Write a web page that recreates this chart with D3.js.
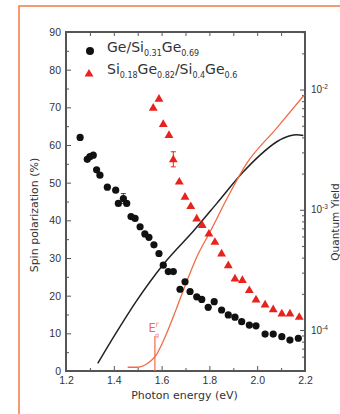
<!DOCTYPE html>
<html>
<head>
<meta charset="utf-8">
<script src="https://cdn.jsdelivr.net/npm/d3@7"></script>
<style>
  body { margin: 0; background: #fff; }
  svg { display: block; font-family: 'DejaVu Sans', sans-serif; }
</style>
</head>
<body>
<script>
// spin polarization, Ge/Si0.31Ge0.69 (black circles)
const blackE = [1.259,1.289,1.300,1.314,1.328,1.342,1.373,1.408,1.419,1.440,1.454,1.472,1.489,1.510,1.530,1.547,1.568,1.589,1.607,1.628,1.649,1.677,1.698,1.719,1.747,1.768,1.795,1.820,1.851,1.879,1.907,1.935,1.967,1.995,2.033,2.067,2.103,2.137,2.172];
const blackP = [62.0,56.2,56.9,57.3,53.4,52.0,48.8,48.0,44.5,45.8,44.5,41.0,40.5,38.3,36.4,35.5,33.5,31.2,28.1,26.4,26.4,21.7,23.7,21.1,19.7,19.0,16.9,18.4,16.2,14.9,14.3,13.1,12.2,12.0,9.8,9.8,9.1,8.2,8.7];
// spin polarization, Si0.18Ge0.82/Si0.4Ge0.6 (red triangles)
const redE = [1.565,1.589,1.607,1.631,1.649,1.674,1.698,1.722,1.747,1.770,1.798,1.823,1.851,1.879,1.907,1.938,1.967,1.995,2.033,2.067,2.103,2.137,2.176];
const redP = [69.9,72.3,65.6,62.7,56.2,50.3,46.3,43.8,40.5,38.8,36.5,34.3,31.2,28.1,24.6,24.2,21.5,19.0,17.7,16.4,15.3,15.3,14.4];
// error bars [energy, value, half-height]
const blackErr = [[1.440, 45.8, 1.3]];
const redErr = [[1.649, 56.2, 2.0]];
// quantum yield curves (right log axis)
const qyBlackE = [1.333,1.409,1.493,1.611,1.737,1.831,1.942,2.012,2.082,2.137,2.165,2.193];
const qyBlack = [5.28e-5,9.4e-5,1.72e-4,3.59e-4,6.79e-4,1.13e-3,2.07e-3,2.85e-3,3.68e-3,4.12e-3,4.2e-3,4.15e-3];
const qyOrangeE = [1.458,1.500,1.542,1.577,1.618,1.660,1.702,1.751,1.803,1.879,1.956,2.077,2.197];
const qyOrange = [4.9e-5,4.9e-5,5.28e-5,6.19e-5,9.08e-5,1.47e-4,2.44e-4,4.2e-4,6.56e-4,1.3e-3,2.43e-3,4.67e-3,9.0e-3];
const egamma = 1.572;
// ticks
const xMajor = [1.2,1.4,1.6,1.8,2.0,2.2];
const xMinor = [1.3,1.5,1.7,1.9,2.1];
const yMajor = [0,10,20,30,40,50,60,70,80,90];
const yMinor = [5,15,25,35,45,55,65,75,85];
const qyMajor = [1e-4,1e-3,1e-2];
const qyMinor = [6e-5,7e-5,8e-5,9e-5,2e-4,3e-4,4e-4,5e-4,6e-4,7e-4,8e-4,9e-4,2e-3,3e-3,4e-3,5e-3,6e-3,7e-3,8e-3,9e-3,2e-2,3e-2];

const orange = '#f26b45';
const axisCol = '#555';

const svg = d3.select('body')
  .append('svg')
    .attr('width', 340)
    .attr('height', 414);

// orange page frame
svg.append('path')
  .attr('d', 'M19,414 L19,6 L340,6')
  .attr('fill', 'none')
  .attr('stroke', '#f47a40')
  .attr('stroke-width', 1.5);

const L = 66, R = 305, T = 32, B = 371;
const x = d3.scaleLinear().domain([1.2, 2.2]).range([L, R]);
const y = d3.scaleLinear().domain([0, 90]).range([B, T]);
const yq = d3.scaleLog().domain([4.56e-5, 0.0301]).range([B, T]);

//axes
const tickStyle = g => {
  g.select('.domain').remove();
  g.selectAll('.tick line').attr('stroke', axisCol);
  g.selectAll('.tick text').attr('fill', '#333').attr('font-size', 10.5);
};
svg.append('g').attr('transform', `translate(0,${B})`)
  .call(d3.axisBottom(x).tickValues(xMajor).tickSize(-5).tickPadding(6).tickFormat(d3.format('.1f')))
  .call(tickStyle);
svg.append('g').attr('transform', `translate(0,${B})`)
  .call(d3.axisBottom(x).tickValues(xMinor).tickSize(-3).tickFormat(''))
  .call(tickStyle);
svg.append('g').attr('transform', `translate(0,${T})`)
  .call(d3.axisTop(x).tickValues(xMajor.concat(xMinor)).tickSize(-4).tickFormat(''))
  .call(tickStyle);
svg.append('g').attr('transform', `translate(${L},0)`)
  .call(d3.axisLeft(y).tickValues(yMajor).tickSize(-5).tickPadding(5))
  .call(tickStyle);
svg.append('g').attr('transform', `translate(${L},0)`)
  .call(d3.axisLeft(y).tickValues(yMinor).tickSize(-3).tickFormat(''))
  .call(tickStyle);
const qAxis = svg.append('g').attr('transform', `translate(${R},0)`)
  .call(d3.axisRight(yq).tickValues(qyMajor).tickSize(-5).tickPadding(6))
  .call(tickStyle);
qAxis.selectAll('.tick text').attr('font-size', 10).each(function(d) {
  const t = d3.select(this).text('');
  t.append('tspan').text('10');
  t.append('tspan').attr('dy', -4).attr('font-size', 6.5).text(Math.round(Math.log10(d)));
});
svg.append('g').attr('transform', `translate(${R},0)`)
  .call(d3.axisRight(yq).tickValues(qyMinor).tickSize(-3).tickFormat(''))
  .call(tickStyle);

// plot frame
svg.append('rect')
  .attr('x', L).attr('y', T)
  .attr('width', R - L).attr('height', B - T)
  .attr('fill', 'none')
  .attr('stroke', axisCol)
  .attr('stroke-width', 2);

// axis titles
svg.append('text')
  .attr('x', (L + R) / 2 - 1).attr('y', 399)
  .attr('text-anchor', 'middle')
  .attr('font-size', 11).attr('fill', '#333')
  .text('Photon energy (eV)');
svg.append('text')
  .attr('transform', 'translate(38,215) rotate(-90)')
  .attr('text-anchor', 'middle')
  .attr('font-size', 11).attr('fill', '#333')
  .text('Spin polarization (%)');
svg.append('text')
  .attr('transform', 'translate(339,222) rotate(-90)')
  .attr('text-anchor', 'middle')
  .attr('font-size', 10.5).attr('fill', '#333')
  .text('Quantum Yield');

// quantum yield lines
const qLine = d3.line()
  .x(d => x(d[0]))
  .y(d => yq(d[1]))
  .curve(d3.curveMonotoneX);
svg.append('path')
  .attr('d', qLine(d3.zip(qyBlackE, qyBlack)))
  .attr('fill', 'none')
  .attr('stroke', '#222')
  .attr('stroke-width', 1.5);
svg.append('path')
  .attr('d', qLine(d3.zip(qyOrangeE, qyOrange)))
  .attr('fill', 'none')
  .attr('stroke', orange)
  .attr('stroke-width', 1.3);

// E gap marker
svg.append('line')
  .attr('x1', x(egamma)).attr('x2', x(egamma))
  .attr('y1', 336).attr('y2', B)
  .attr('stroke', orange)
  .attr('stroke-width', 1.2);
const eLab = svg.append('text')
  .attr('x', 148.5).attr('y', 332)
  .attr('font-size', 11.5).attr('fill', orange);
eLab.append('tspan').text('E');
eLab.append('tspan').attr('dy', -5).attr('font-size', 6).text('Γ');
eLab.append('tspan').attr('dx', -4).attr('dy', 10).attr('font-size', 6).text('g');

// error bars
const errBars = (data, col) => {
  const g = svg.append('g').attr('stroke', col).attr('stroke-width', 1);
  data.forEach(d => {
    const cx = x(d[0]);
    g.append('line').attr('x1', cx).attr('x2', cx).attr('y1', y(d[1] - d[2])).attr('y2', y(d[1] + d[2]));
    g.append('line').attr('x1', cx - 2.5).attr('x2', cx + 2.5).attr('y1', y(d[1] - d[2])).attr('y2', y(d[1] - d[2]));
    g.append('line').attr('x1', cx - 2.5).attr('x2', cx + 2.5).attr('y1', y(d[1] + d[2])).attr('y2', y(d[1] + d[2]));
  });
};
errBars(blackErr, '#444');
errBars(redErr, '#e8221c');

// markers
const tri = d3.symbol().type(d3.symbolTriangle).size(34);
svg.append('g').selectAll('circle')
  .data(d3.zip(blackE, blackP))
  .enter()
  .append('circle')
  .attr('cx', d => x(d[0]))
  .attr('cy', d => y(d[1]))
  .attr('r', 3.6)
  .attr('fill', '#111');
svg.append('g').selectAll('path')
  .data(d3.zip(redE, redP))
  .enter()
  .append('path')
  .attr('d', tri)
  .attr('transform', d => `translate(${x(d[0])},${y(d[1]) + 0.5})`)
  .attr('fill', '#e8221c');

// legend
svg.append('circle').attr('cx', 90).attr('cy', 51).attr('r', 4).attr('fill', '#111');
svg.append('path').attr('d', tri).attr('transform', 'translate(89,74)').attr('fill', '#e8221c');
const legText = (yy, parts) => {
  const t = svg.append('text').attr('x', 107).attr('y', yy).attr('font-size', 14).attr('fill', '#333');
  parts.forEach(p => {
    if (p[1]) {
      t.append('tspan').attr('dy', 4).attr('font-size', 8).text(p[0]);
    } else {
      t.append('tspan').attr('dy', t.selectAll('tspan').size() ? -4 : 0).text(p[0]);
    }
  });
};
legText(56, [['Ge/Si'], ['0.31', 1], ['Ge'], ['0.69', 1]]);
legText(78, [['Si'], ['0.18', 1], ['Ge'], ['0.82', 1], ['/Si'], ['0.4', 1], ['Ge'], ['0.6', 1]]);
</script>
</body>
</html>
